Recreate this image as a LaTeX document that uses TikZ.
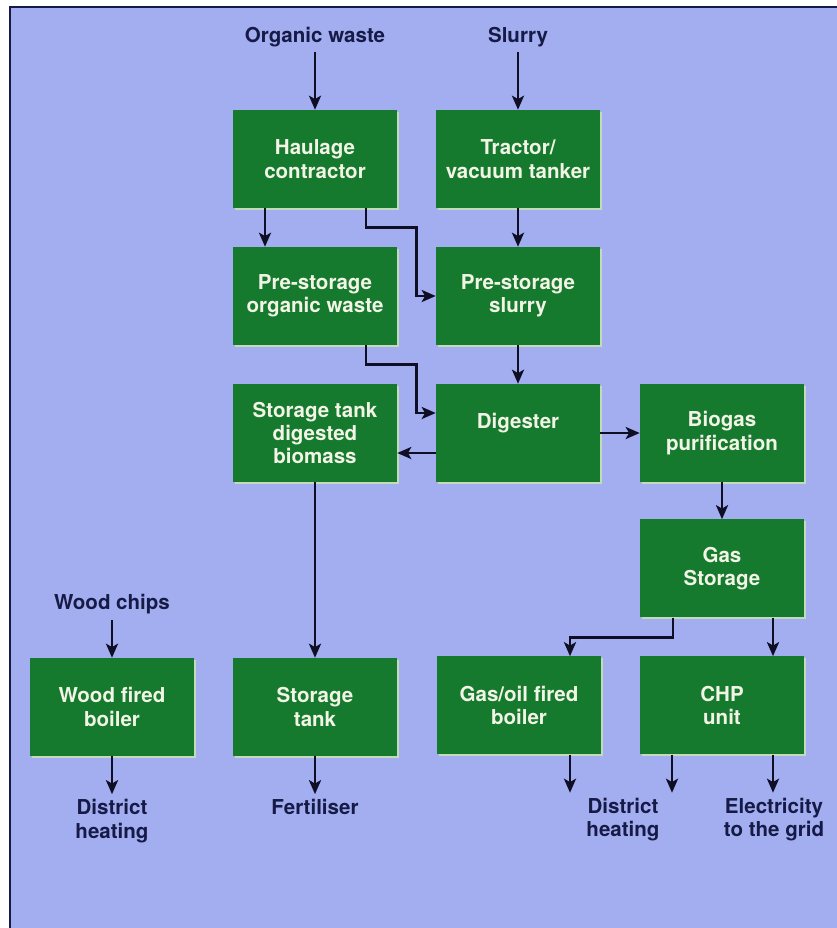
\documentclass[tikz,border=0pt]{standalone}
\usepackage{fontspec}
\setmainfont{TeX Gyre Heros}
\usetikzlibrary{arrows.meta,shadows}
\definecolor{bgblue}{RGB}{163,174,240}
\definecolor{boxgreen}{RGB}{22,122,46}
\definecolor{inkblue}{RGB}{22,26,70}
\definecolor{arrowink}{RGB}{14,14,36}
\definecolor{paletext}{RGB}{242,244,230}
\definecolor{halo}{RGB}{200,224,180}

\begin{document}
\begin{tikzpicture}[node distance=102.75pt]
\tikzstyle{box}=[fill=boxgreen,text=paletext,minimum width=123pt,minimum height=73.5pt,align=center,
  font=\fontsize{15.4pt}{17.6pt}\selectfont\bfseries,
  drop shadow={shadow xshift=1.3pt,shadow yshift=-1.3pt,fill=halo,opacity=0.9}]
\tikzstyle{lbl}=[text=inkblue,align=center,inner sep=1pt,outer sep=3pt,
  font=\fontsize{15.4pt}{17.6pt}\selectfont\bfseries]
\tikzstyle{ar}=[-{Stealth[length=10.5pt,width=9pt,inset=2.5pt]},line width=2.2pt,draw=arrowink]
% frame
\useasboundingbox (0,0) rectangle (627.75pt,-696pt);
\fill[white] (0,0) rectangle (627.75pt,-696pt);
\fill[bgblue] (7.5pt,-5.25pt) rectangle (627.75pt,-696pt);
\draw[inkblue,line width=1.5pt] (7.5pt,-696pt) -- (7.5pt,-5.25pt) -- (627.75pt,-5.25pt);

\node [box] (hc) at (236.25pt,-119.25pt) {Haulage\\contractor};
\node [box,node distance=152.25pt,right of=hc] (tt) {Tractor/\\vacuum tanker};
\node [box,below of=hc] (pow) {Pre-storage\\organic waste};
\node [box,below of=tt] (ps) {Pre-storage\\slurry};
\node [box,below of=pow] (sd) {Storage tank\\digested\\biomass};
\node [box,below of=ps] (dig) {Digester\\\phantom{D}};
\node [box,node distance=153pt,right of=dig] (bp) {Biogas\\purification};
\node [box,node distance=101.6pt,below of=bp] (gs) {Gas\\Storage};
\node [box,below of=gs] (chp) {CHP\\unit};
\node [box,node distance=152.25pt,left of=chp] (gb) {Gas/oil fired\\boiler};
\node [box,node distance=205.5pt,below of=sd] (st) {Storage\\tank};
\node [box,node distance=152.25pt,left of=st] (wb) {Wood fired\\boiler};

% inputs and outputs
\node [lbl,node distance=91.5pt,above of=hc] (ow) {Organic waste};
\node [lbl,node distance=91.5pt,above of=tt] (sl) {Slurry};
\node [lbl,node distance=77pt,above of=wb] (wc) {Wood chips};
\node [lbl,node distance=65.4pt,below of=wb,anchor=north] (dh1) {District\\heating};
\node [lbl,node distance=65.4pt,below of=st,anchor=north] (fe) {Fertiliser};
\node [lbl,node distance=65.4pt,below of=gb,anchor=north,xshift=78pt] (dh2) {District\\heating};
\node [lbl,node distance=65.4pt,below of=chp,anchor=north,xshift=39pt] (el) {Electricity\\to the grid};

\draw[ar] (ow) -- (hc);
\draw[ar] (sl) -- (tt);
\draw[ar] ([xshift=-37.5pt]hc.south) -- ([xshift=-37.5pt]pow.north);
\draw[ar] ([xshift=38.25pt]hc.south) -- ++(0,-14.25pt) -| ([xshift=-14.6pt]ps.west) -- (ps.west);
\draw[ar] (tt) -- (ps);
\draw[ar] ([xshift=38.25pt]pow.south) -- ++(0,-14.25pt) -| ([xshift=-14.6pt,yshift=15pt]dig.west) -- ([yshift=15pt]dig.west);
\draw[ar] (ps) -- (dig);
\draw[ar] ([yshift=-15pt]dig.west) -- ([yshift=-15pt]sd.east);
\draw[ar] (dig) -- (bp);
\draw[ar] (bp) -- (gs);
\draw[ar] (sd) -- (st);
\draw[ar] (wc) -- (wb);
\draw[ar] ([xshift=-36.75pt]gs.south) -- ++(0,-15pt) -| ([xshift=38.25pt]gb.north);
\draw[ar] ([xshift=38.25pt]gs.south) -- ([xshift=38.25pt]chp.north);
\draw[ar] (wb) -- (dh1);
\draw[ar] (st) -- (fe);
\draw[ar] ([xshift=38.25pt]gb.south) -- ++(0,-28.5pt);
\draw[ar] ([xshift=-37.5pt]chp.south) -- ++(0,-28.5pt);
\draw[ar] ([xshift=38.25pt]chp.south) -- ++(0,-28.5pt);
\end{tikzpicture}
\end{document}
